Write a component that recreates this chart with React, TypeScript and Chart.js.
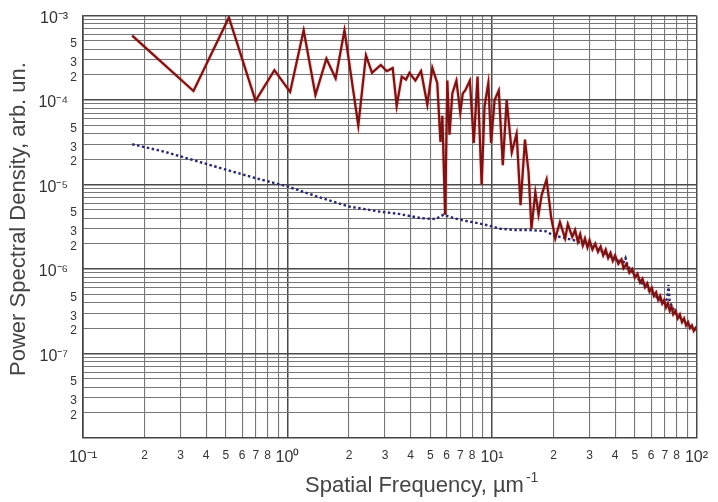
import React, { useEffect, useRef } from "react";
import { Chart, registerables } from "chart.js";

Chart.register(...registerables);

// Measured spectrum (solid dark red)
const redX = [
  0.174, 0.347, 0.517, 0.698, 0.863, 1.03, 1.2, 1.37, 1.55, 1.72, 1.9, 2.22,
  2.42, 2.59, 2.86, 3.06, 3.27, 3.42, 3.62, 3.8, 3.95, 4.22, 4.5, 4.83, 5.11,
  5.4, 5.6, 5.72, 5.9, 6.05, 6.2, 6.4, 6.7, 7.0, 7.2, 7.4, 7.8, 8.15, 8.5, 8.9,
  9.2, 9.6, 9.9, 10.3, 10.8, 11.3, 11.8, 12.5, 13.2, 13.8, 14.5, 15.1, 15.6,
  16.3, 16.9, 17.5, 18.5, 19.5, 20.4, 21.5, 22.8, 23.5, 24.7,
  25.5, 26.3, 27, 27.8, 28.5, 29.3, 30, 31, 32, 33, 34, 35, 36, 37, 38, 39, 40,
  41.5, 43, 44, 45.5, 47, 48.5, 50, 51.5, 53, 54.5, 56, 57.5, 59, 60.5, 62,
  63.5, 65, 66.5, 68, 69.5, 71, 72.5, 74, 75.5, 77, 79, 81, 83, 85, 87, 89, 91,
  93, 95, 97, 99, 100,
];
const redY = [
  5.8e-4, 1.28e-4, 9.5e-4, 9.8e-5, 2.26e-4, 1.25e-4, 6.7e-4, 1.15e-4, 3.1e-4,
  1.8e-4, 6.7e-4, 5.0e-5,
  3.4e-4, 2.1e-4, 2.6e-4, 2.2e-4, 2.4e-4, 8.5e-5, 1.9e-4, 1.75e-4, 2.1e-4,
  1.7e-4, 2.2e-4, 8.8e-5, 2.4e-4, 1.6e-4, 3.2e-5, 6.5e-5, 4.4e-6, 1.7e-4,
  3.9e-5, 1.2e-4, 1.7e-4, 7.1e-5, 1.2e-4, 1.3e-4, 1.7e-4, 3.1e-5, 1.9e-4,
  1.0e-5, 8.5e-5, 1.6e-4, 3.1e-5, 1.0e-4, 1.3e-4, 1.7e-5, 1.0e-4, 2.4e-5,
  4.0e-5, 5.7e-6, 3.4e-5, 1.4e-5, 3.0e-6, 8.1e-6, 4.4e-6, 7.5e-6, 1.15e-5,
  4.0e-6, 2.3e-6, 3.6e-6, 2.3e-6, 3.4e-6, 2.4e-6,
  2.9e-6, 2.1e-6, 2.6e-6, 1.9e-6, 2.3e-6, 1.8e-6, 2.2e-6, 1.7e-6, 2.0e-6,
  1.6e-6, 1.85e-6, 1.45e-6, 1.7e-6, 1.35e-6, 1.55e-6, 1.25e-6, 1.45e-6,
  1.15e-6, 1.3e-6, 1.02e-6, 1.15e-6, 9.0e-7, 1.0e-6, 7.9e-7, 8.8e-7, 6.9e-7,
  7.7e-7, 6.1e-7, 6.8e-7, 5.4e-7, 6.0e-7, 4.8e-7, 5.3e-7, 4.3e-7, 4.8e-7,
  3.9e-7, 4.3e-7, 3.5e-7, 3.9e-7, 3.2e-7, 3.6e-7, 2.9e-7, 3.2e-7, 2.6e-7,
  2.9e-7, 2.35e-7, 2.6e-7, 2.15e-7, 2.35e-7, 2.0e-7, 2.15e-7, 1.85e-7, 2.0e-7,
  1.9e-7,
];

// Reference / background spectrum (dotted navy)
const blueX = [
  0.174, 0.25, 0.35, 0.5, 0.7, 1.0, 1.4, 2.0, 2.8, 3.5, 4.5, 5.3, 5.8, 6.5, 7.5,
  8.5, 9.5, 11, 13, 15, 17, 18.3, 20, 25, 30, 35, 40, 44, 45, 46, 50, 55, 60,
  65, 70, 72, 73, 74, 80, 90, 100,
];
const blueY = [
  3.0e-5, 2.45e-5, 1.93e-5, 1.5e-5, 1.19e-5, 9.5e-6, 7.2e-6, 5.5e-6, 4.8e-6,
  4.5e-6, 4.0e-6, 3.9e-6, 4.4e-6, 4.0e-6, 3.7e-6, 3.5e-6, 3.3e-6, 3.0e-6,
  2.9e-6, 2.9e-6, 2.85e-6, 2.8e-6, 2.5e-6, 2.2e-6, 1.9e-6, 1.6e-6, 1.3e-6,
  1.2e-6, 1.35e-6, 1.1e-6, 8.5e-7, 6.5e-7, 5.3e-7, 4.5e-7, 3.9e-7, 4.5e-7,
  6.5e-7, 4.0e-7, 2.9e-7, 2.2e-7, 1.9e-7,
];

const xTickValues = [
  0.1, 0.2, 0.3, 0.4, 0.5, 0.6, 0.7, 0.8, 0.9,
  1, 2, 3, 4, 5, 6, 7, 8, 9,
  10, 20, 30, 40, 50, 60, 70, 80, 90,
  100,
];
const xTickLabels = [
  "10\u207B\u00B9", "2", "3", "4", "5", "6", "7", "8", "",
  "10\u2070", "2", "3", "4", "5", "6", "7", "8", "",
  "10\u00B9", "2", "3", "4", "5", "6", "7", "8", "",
  "10\u00B2",
];

const yTickValues = [
  1e-8, 2e-8, 3e-8, 4e-8, 5e-8, 6e-8, 7e-8, 8e-8, 9e-8,
  1e-7, 2e-7, 3e-7, 4e-7, 5e-7, 6e-7, 7e-7, 8e-7, 9e-7,
  1e-6, 2e-6, 3e-6, 4e-6, 5e-6, 6e-6, 7e-6, 8e-6, 9e-6,
  1e-5, 2e-5, 3e-5, 4e-5, 5e-5, 6e-5, 7e-5, 8e-5, 9e-5,
  1e-4, 2e-4, 3e-4, 4e-4, 5e-4, 6e-4, 7e-4, 8e-4, 9e-4,
  1e-3,
];
const yTickLabels = [
  "", "2", "3", "", "5", "", "", "", "",
  "10\u207B\u2077", "2", "3", "", "5", "", "", "", "",
  "10\u207B\u2076", "2", "3", "", "5", "", "", "", "",
  "10\u207B\u2075", "2", "3", "", "5", "", "", "", "",
  "10\u207B\u2074", "2", "3", "", "5", "", "", "", "",
  "10\u207B\u00B3",
];

const FONT = '"Liberation Sans", Arial, Helvetica, sans-serif';

const isMajorLabel = (lbl: string) => lbl.length > 1;

const titlePlugin = {
  id: "axisTitles",
  afterDraw(chart: any) {
    const ctx = chart.ctx;
    ctx.save();
    ctx.fillStyle = "#444";
    ctx.textBaseline = "alphabetic";
    ctx.textAlign = "left";
    ctx.font = `22px ${FONT}`;
    const main = "Spatial Frequency, \u00B5m";
    const x0 = 305;
    ctx.fillText(main, x0, 492);
    const w = ctx.measureText(main).width;
    ctx.font = `14px ${FONT}`;
    ctx.fillText("-1", x0 + w + 2, 482);
    ctx.translate(25, 219);
    ctx.rotate(-Math.PI / 2);
    ctx.textAlign = "center";
    ctx.font = `22px ${FONT}`;
    ctx.fillText("Power Spectral Density, arb. un.", 0, 0);
    ctx.restore();
  },
};

const glowPlugin = {
  id: "redGlow",
  beforeDatasetDraw(chart: any, args: any) {
    if (args.index === 0) {
      const c = chart.ctx;
      c.save();
      c.shadowColor = "rgba(200,30,30,0.5)";
      c.shadowBlur = 2;
    }
  },
  afterDatasetDraw(chart: any, args: any) {
    if (args.index === 0) chart.ctx.restore();
  },
};

export default function App() {
  const ref = useRef<HTMLCanvasElement | null>(null);

  useEffect(() => {
    if (!ref.current) return;
    const chart = new Chart(ref.current, {
      type: "scatter",
      data: {
        datasets: [
          {
            label: "sample",
            data: redX.map((x, i) => ({ x, y: redY[i] })),
            showLine: true,
            borderColor: "#7a1414",
            borderWidth: 2.2,
            pointRadius: 0,
            tension: 0,
            order: 0,
          },
          {
            label: "reference",
            data: blueX.map((x, i) => ({ x, y: blueY[i] })),
            showLine: true,
            borderColor: "#28286e",
            borderWidth: 2.4,
            borderDash: [2.5, 2.5],
            pointRadius: 0,
            tension: 0,
            order: 1,
          },
        ],
      },
      options: {
        responsive: false,
        animation: false,
        events: [],
        layout: { padding: { top: 12, right: 13, left: 0, bottom: 0 } },
        plugins: {
          legend: { display: false },
          tooltip: { enabled: false },
        },
        scales: {
          x: {
            type: "logarithmic",
            min: 0.1,
            max: 100,
            afterBuildTicks: (scale: any) => {
              scale.ticks = xTickValues.map((v) => ({ value: v }));
            },
            afterFit: (scale: any) => {
              scale.height = 64;
            },
            ticks: {
              autoSkip: false,
              maxRotation: 0,
              minRotation: 0,
              padding: 10,
              color: "#333",
              callback: (_v: any, i: number) => xTickLabels[i],
              font: (ctx: any) => ({
                size: isMajorLabel(xTickLabels[ctx.index] || "") ? 16 : 12,
                family: FONT,
              }),
            },
            grid: {
              drawTicks: false,
              color: (ctx: any) =>
                isMajorLabel(xTickLabels[ctx.index] || "") ? "#4a4a4a" : "#777",
              lineWidth: (ctx: any) =>
                isMajorLabel(xTickLabels[ctx.index] || "") ? 1.5 : 1.1,
            },
            border: { display: true, color: "#444", width: 1.5 },
          },
          y: {
            type: "logarithmic",
            min: 1e-8,
            max: 1e-3,
            afterBuildTicks: (scale: any) => {
              scale.ticks = yTickValues.map((v) => ({ value: v }));
            },
            afterFit: (scale: any) => {
              scale.width = 83;
            },
            ticks: {
              autoSkip: false,
              padding: 6,
              labelOffset: 3,
              color: "#333",
              callback: (_v: any, i: number) =>
                isMajorLabel(yTickLabels[i]) ? yTickLabels[i] + "  " : yTickLabels[i],
              font: (ctx: any) => ({
                size: isMajorLabel(yTickLabels[ctx.index] || "") ? 16 : 12,
                family: FONT,
              }),
            },
            grid: {
              drawTicks: false,
              color: (ctx: any) =>
                isMajorLabel(yTickLabels[ctx.index] || "") ? "#4a4a4a" : "#777",
              lineWidth: (ctx: any) =>
                isMajorLabel(yTickLabels[ctx.index] || "") ? 1.5 : 1.1,
            },
            border: { display: true, color: "#444", width: 1.5 },
          },
        },
      },
      plugins: [titlePlugin, glowPlugin],
    } as any);
    return () => chart.destroy();
  }, []);

  return (
    <div
      style={{
        position: "fixed",
        left: 0,
        top: 0,
        width: 718,
        height: 502,
        background: "#fff",
      }}
    >
      <canvas ref={ref} width={718} height={502} style={{ display: "block" }} />
    </div>
  );
}
